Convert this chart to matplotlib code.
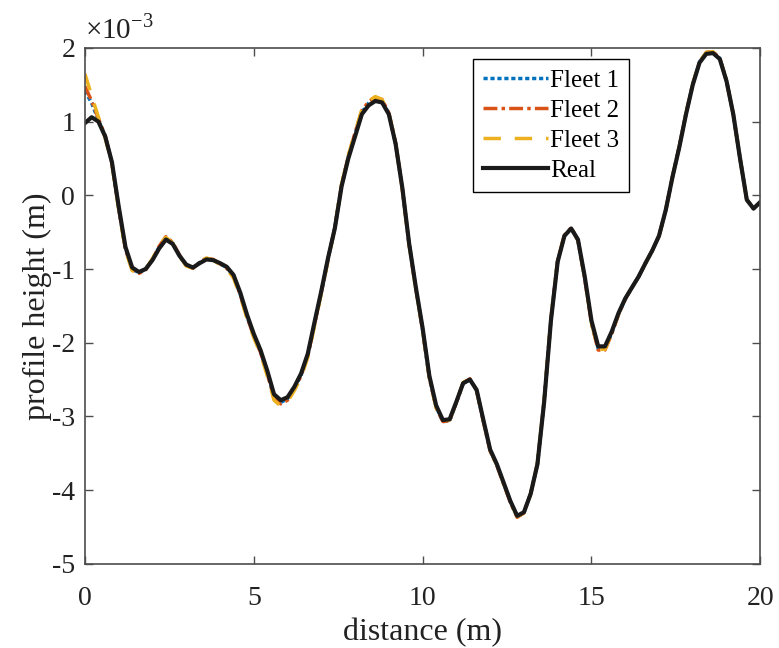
import matplotlib
matplotlib.use("Agg")
import matplotlib.pyplot as plt
from matplotlib.ticker import FixedLocator

# distance (m)
x = [0.0, 0.2, 0.4, 0.6, 0.8, 1.0, 1.2, 1.4, 1.6, 1.8, 2.0, 2.2, 2.4, 2.6, 2.8, 3.0,
     3.2, 3.4, 3.6, 3.8, 4.0, 4.2, 4.4, 4.6, 4.8, 5.0, 5.2, 5.4, 5.6, 5.8, 6.0, 6.2,
     6.4, 6.6, 6.8, 7.0, 7.2, 7.4, 7.6, 7.8, 8.0, 8.2, 8.4, 8.6, 8.8, 9.0, 9.2, 9.4,
     9.6, 9.8, 10.0, 10.2, 10.4, 10.6, 10.8, 11.0, 11.2, 11.4, 11.6, 11.8, 12.0, 12.2,
     12.4, 12.6, 12.8, 13.0, 13.2, 13.4, 13.6, 13.8, 14.0, 14.2, 14.4, 14.6, 14.8, 15.0,
     15.2, 15.4, 15.6, 15.8, 16.0, 16.2, 16.4, 16.6, 16.8, 17.0, 17.2, 17.4, 17.6, 17.8,
     18.0, 18.2, 18.4, 18.6, 18.8, 19.0, 19.2, 19.4, 19.6, 19.8, 20.0]

# profile height (x 1e-3 m)
real = [0.98, 1.06, 1.00, 0.80, 0.45, -0.15, -0.70, -0.98, -1.04, -1.00, -0.88, -0.72,
        -0.60, -0.66, -0.82, -0.94, -0.98, -0.92, -0.87, -0.88, -0.92, -0.97, -1.08, -1.32,
        -1.62, -1.88, -2.10, -2.38, -2.70, -2.78, -2.74, -2.60, -2.42, -2.15, -1.72, -1.30,
        -0.85, -0.45, 0.12, 0.50, 0.80, 1.10, 1.22, 1.28, 1.26, 1.10, 0.70, 0.10,
        -0.65, -1.25, -1.80, -2.45, -2.85, -3.05, -3.04, -2.80, -2.55, -2.50, -2.64, -3.05,
        -3.45, -3.65, -3.90, -4.15, -4.35, -4.30, -4.05, -3.65, -2.80, -1.70, -0.90, -0.55,
        -0.45, -0.60, -1.10, -1.70, -2.05, -2.05, -1.85, -1.60, -1.40, -1.25, -1.10, -0.92,
        -0.75, -0.55, -0.20, 0.25, 0.65, 1.10, 1.50, 1.80, 1.92, 1.93, 1.85, 1.55,
        1.10, 0.50, -0.06, -0.18, -0.09]

fleet1 = [1.42, 1.25, 1.02, 0.80, 0.44, -0.17, -0.72, -1.00, -1.05, -1.00, -0.87, -0.70,
          -0.58, -0.65, -0.82, -0.95, -0.98, -0.91, -0.86, -0.88, -0.93, -0.98, -1.09, -1.34,
          -1.64, -1.90, -2.12, -2.41, -2.73, -2.81, -2.76, -2.62, -2.44, -2.17, -1.74, -1.31,
          -0.86, -0.44, 0.13, 0.52, 0.83, 1.13, 1.25, 1.31, 1.28, 1.11, 0.70, 0.09,
          -0.66, -1.26, -1.82, -2.47, -2.87, -3.07, -3.06, -2.81, -2.55, -2.50, -2.65, -3.06,
          -3.46, -3.66, -3.91, -4.16, -4.36, -4.31, -4.05, -3.65, -2.79, -1.69, -0.89, -0.55,
          -0.45, -0.61, -1.12, -1.72, -2.08, -2.08, -1.87, -1.61, -1.41, -1.25, -1.10, -0.92,
          -0.75, -0.55, -0.20, 0.25, 0.66, 1.11, 1.51, 1.81, 1.93, 1.94, 1.86, 1.55,
          1.10, 0.50, -0.06, -0.18, -0.09]

fleet2 = [1.48, 1.28, 1.04, 0.81, 0.44, -0.18, -0.73, -1.01, -1.06, -1.01, -0.87, -0.69,
          -0.56, -0.64, -0.81, -0.95, -0.99, -0.91, -0.85, -0.87, -0.93, -0.99, -1.10, -1.35,
          -1.65, -1.91, -2.13, -2.42, -2.75, -2.83, -2.78, -2.63, -2.45, -2.18, -1.75, -1.32,
          -0.87, -0.44, 0.14, 0.53, 0.85, 1.15, 1.27, 1.33, 1.30, 1.12, 0.71, 0.09,
          -0.67, -1.27, -1.83, -2.48, -2.88, -3.07, -3.06, -2.81, -2.55, -2.49, -2.65, -3.07,
          -3.47, -3.67, -3.92, -4.17, -4.37, -4.31, -4.05, -3.64, -2.78, -1.68, -0.88, -0.54,
          -0.44, -0.61, -1.13, -1.74, -2.10, -2.10, -1.88, -1.62, -1.41, -1.25, -1.10, -0.92,
          -0.75, -0.55, -0.20, 0.25, 0.66, 1.11, 1.51, 1.81, 1.94, 1.95, 1.86, 1.55,
          1.10, 0.50, -0.06, -0.18, -0.09]

fleet3 = [1.65, 1.35, 1.06, 0.78, 0.42, -0.19, -0.75, -1.02, -1.06, -1.00, -0.86, -0.68,
          -0.57, -0.65, -0.82, -0.96, -0.99, -0.90, -0.85, -0.88, -0.94, -1.00, -1.12, -1.37,
          -1.67, -1.93, -2.15, -2.45, -2.78, -2.86, -2.80, -2.65, -2.47, -2.20, -1.77, -1.33,
          -0.88, -0.44, 0.15, 0.54, 0.86, 1.16, 1.28, 1.34, 1.30, 1.12, 0.71, 0.08,
          -0.67, -1.27, -1.83, -2.48, -2.88, -3.06, -3.05, -2.80, -2.54, -2.49, -2.65, -3.06,
          -3.46, -3.66, -3.91, -4.16, -4.36, -4.31, -4.05, -3.64, -2.78, -1.68, -0.88, -0.54,
          -0.44, -0.61, -1.12, -1.73, -2.09, -2.09, -1.87, -1.61, -1.40, -1.25, -1.10, -0.92,
          -0.75, -0.55, -0.20, 0.25, 0.66, 1.11, 1.51, 1.81, 1.94, 1.95, 1.86, 1.55,
          1.10, 0.50, -0.06, -0.18, -0.09]

x_ticks = [0, 5, 10, 15, 20]
y_ticks = [-5, -4, -3, -2, -1, 0, 1, 2]

plt.rcParams['font.family'] = ['Liberation Serif', 'DejaVu Serif']
plt.rcParams['mathtext.fontset'] = 'custom'
plt.rcParams['mathtext.rm'] = 'Liberation Serif'

fig = plt.figure(figsize=(7.79, 6.48), dpi=100)
ax = fig.add_axes([0.109, 0.130, 0.867, 0.796])

common = dict(solid_joinstyle='round', dash_joinstyle='round')
ax.plot(x, fleet1, color='#0072BD', linestyle=(0, (1.2, 0.8)), linewidth=2.5, label='Fleet 1', **common)
ax.plot(x, fleet2, color='#D95319', linestyle=(0, (4, 1.2, 1, 1.2)), linewidth=2.5, label='Fleet 2', **common)
ax.plot(x, fleet3, color='#EDB120', linestyle=(0, (5, 4)), linewidth=2.5, label='Fleet 3', **common)
ax.plot(x, real, color='#1a1a1a', linestyle='-', linewidth=3.0, label='Real', **common)

ax.set_xlim(0, 20)
ax.set_ylim(-5, 2)
ax.xaxis.set_major_locator(FixedLocator(x_ticks))
ax.yaxis.set_major_locator(FixedLocator(y_ticks))
ax.set_xticklabels([str(t) for t in x_ticks])
ax.set_yticklabels([str(t) for t in y_ticks])

for s in ax.spines.values():
    s.set_color('#4d4d4d')
    s.set_linewidth(1.2)
ax.tick_params(direction='in', length=6, width=1, colors='#4d4d4d',
               top=True, right=True, labelsize=20, labelcolor='#222222')
ax.tick_params(axis='x', pad=16)
ax.tick_params(axis='y', pad=7)

ax.set_xlabel('distance (m)', fontsize=23, color='#222222', labelpad=5)
ax.set_ylabel('profile height (m)', fontsize=23, color='#222222', labelpad=0)

ax.text(0.0, 1.008, r'$\times 10^{-3}$', transform=ax.transAxes, fontsize=21,
        color='#222222', ha='left', va='bottom')

leg = ax.legend(loc='upper right', bbox_to_anchor=(0.806, 0.978), fontsize=18,
                frameon=True, fancybox=False, edgecolor='black', framealpha=1,
                handlelength=2.6, handletextpad=0.1, labelspacing=0.3,
                borderpad=0.4, borderaxespad=0)
leg.get_frame().set_linewidth(1.0)

fig.savefig('out.png', dpi=100)
